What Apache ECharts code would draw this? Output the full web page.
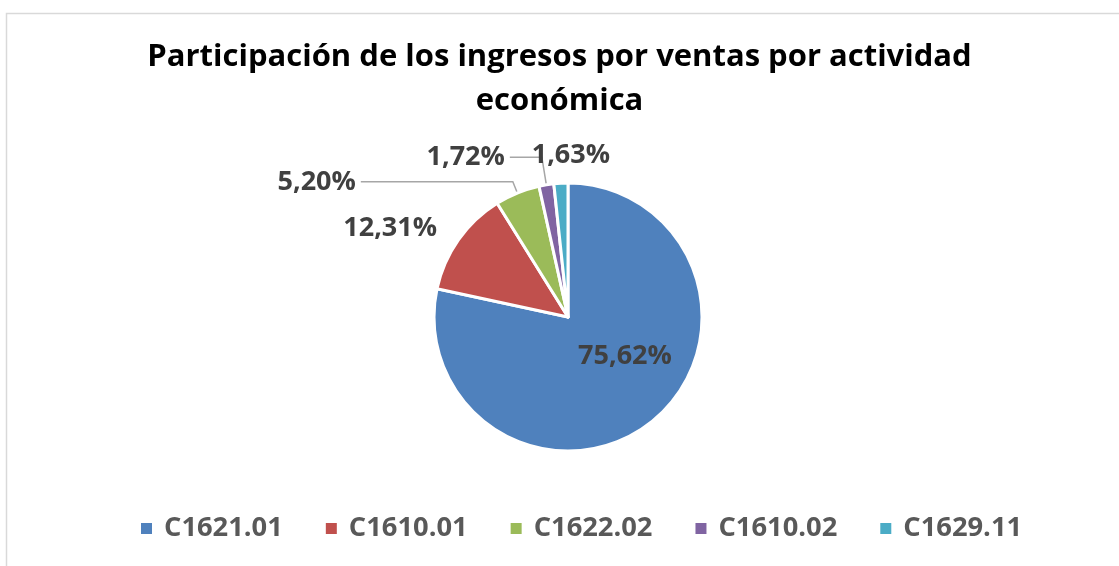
<!DOCTYPE html>
<html>
<head>
<meta charset="utf-8" />
<title>Participación de los ingresos</title>
<script src="https://cdn.jsdelivr.net/npm/echarts@6/dist/echarts.min.js"></script>
<style>
  html, body { margin: 0; padding: 0; background: #fff; }
  #main { width: 1119px; height: 566px; }
</style>
</head>
<body>
<div id="main"></div>
<script>
// datos
var categorias = ['C1621.01', 'C1610.01', 'C1622.02', 'C1610.02', 'C1629.11'];
var valores = [75.62, 12.31, 5.20, 1.72, 1.63];
var colores = ['#4F81BD', '#C0504D', '#9BBB59', '#8064A2', '#4BACC6'];

var fuente = 'Open Sans';

// ajustes de etiquetas por porción
var etiquetas = [
  { position: 'inside' },
  { position: 'outside', line: false, length: 20, length2: 0 },
  { position: 'outside', line: true, length: 12, length2: 152 },
  { position: 'outside', line: true, length: 28, length2: 32 },
  { position: 'outside', line: false, length: 6, length2: 0 }
];

var datos = categorias.map(function (c, i) {
  var e = etiquetas[i];
  return {
    name: c,
    value: valores[i],
    itemStyle: { color: colores[i] },
    label: { position: e.position },
    labelLine: {
      show: !!e.line,
      length: e.length || 0,
      length2: e.length2 || 0
    }
  };
});

var chart = echarts.init(document.getElementById('main'));
chart.setOption({
  animation: false,
  backgroundColor: '#fff',
  graphic: [{
    type: 'rect',
    shape: { x: 6.5, y: 13.5, width: 1200, height: 600 },
    style: { fill: 'none', stroke: '#d9d9d9', lineWidth: 1.5 },
    silent: true
  }],
  title: {
    text: 'Participación de los ingresos por ventas por actividad\neconómica',
    left: 'center',
    top: 30,
    textStyle: {
      fontFamily: fuente,
      fontSize: 31,
      fontWeight: 'bold',
      color: '#000',
      lineHeight: 44
    }
  },
  legend: {
    bottom: 19,
    left: 134,
    icon: 'rect',
    itemWidth: 13,
    itemHeight: 13,
    itemGap: 41,
    data: categorias,
    textStyle: {
      fontFamily: fuente,
      fontSize: 27.3,
      fontWeight: 'bold',
      color: '#595959',
      padding: [0, 0, 0, 6]
    }
  },
  series: [{
    type: 'pie',
    center: [568, 317],
    radius: 134,
    startAngle: 90,
    clockwise: true,
    avoidLabelOverlap: false,
    emphasis: { disabled: true },
    itemStyle: { borderColor: '#fff', borderWidth: 3 },
    label: {
      show: true,
      fontFamily: fuente,
      fontSize: 27,
      fontWeight: 'bold',
      color: '#404040',
      formatter: function (p) {
        return p.value.toFixed(2).replace('.', ',') + '%';
      }
    },
    labelLine: {
      lineStyle: { color: '#a6a6a6', width: 1.5 },
      smooth: false
    },
    labelLayout: function (p) {
      if (p.dataIndex === 0) {
        return { dx: 13, dy: -15 };
      }
      // la última etiqueta va centrada sobre su porción
      if (p.dataIndex === 4) {
        return {
          x: p.rect.x + p.rect.width / 2 + 10,
          y: p.rect.y - 26,
          align: 'center',
          verticalAlign: 'middle'
        };
      }
    },
    data: datos
  }]
});

window.onresize = function () {
  chart.resize();
};
</script>
</body>
</html>
